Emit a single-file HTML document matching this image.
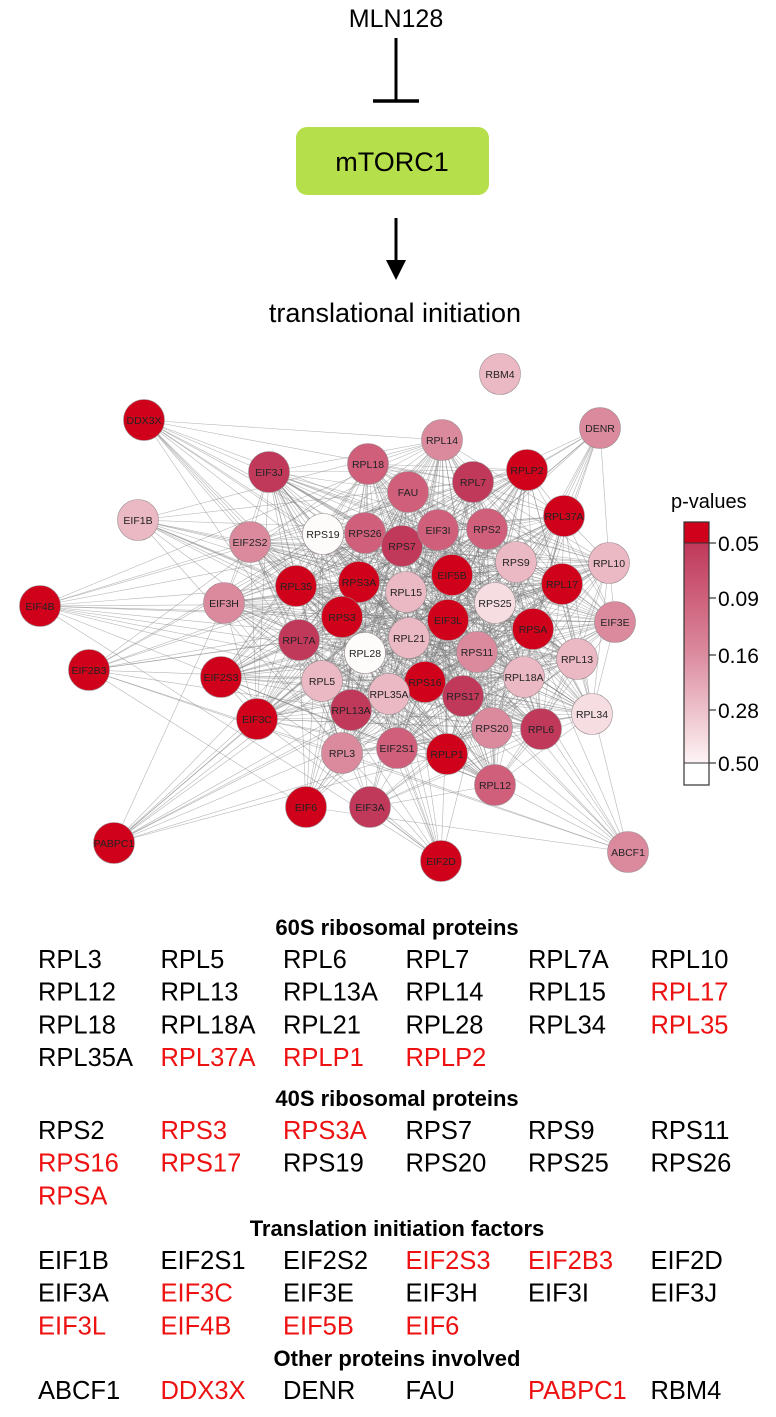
<!DOCTYPE html>
<html><head><meta charset="utf-8"><style>
body{margin:0;background:#fff;width:776px;height:1417px;overflow:hidden;font-family:"Liberation Sans",Arial,sans-serif;}
svg{display:block}
</style></head><body>
<svg width="776" height="1417" viewBox="0 0 776 1417">
<text x="396" y="27" font-size="25" text-anchor="middle">MLN128</text>
<line x1="396" y1="38" x2="396" y2="101" stroke="#000" stroke-width="3"/>
<line x1="373" y1="101" x2="419" y2="101" stroke="#000" stroke-width="3.5"/>
<rect x="296" y="127" width="193" height="68" rx="11" fill="#b5e04b"/>
<text x="392" y="171" font-size="27" text-anchor="middle">mTORC1</text>
<line x1="396" y1="218" x2="396" y2="265" stroke="#000" stroke-width="3"/>
<polygon points="386,260 406,260 396,280" fill="#000"/>
<text x="395" y="322" font-size="27" text-anchor="middle">translational initiation</text>
<g id="edges"></g>
<g id="nodes"></g>
<g>
<defs><linearGradient id="gr" x1="0" y1="0" x2="0" y2="1"><stop offset="0" stop-color="#c0385a"/><stop offset="0.5" stop-color="#db8a9e"/><stop offset="1" stop-color="#fdf4f5"/></linearGradient></defs>
<text x="671" y="508" font-size="20">p-values</text>
<rect x="684" y="522" width="25" height="21" fill="#d0021b"/>
<rect x="684" y="543" width="25" height="220" fill="url(#gr)"/>
<rect x="684" y="522" width="25" height="263" fill="none" stroke="#333" stroke-width="1.2"/>
<line x1="684" y1="763" x2="709" y2="763" stroke="#333"/>
<line x1="684" y1="543" x2="709" y2="543" stroke="#333"/>
<g id="ticks"></g>
</g>
<g id="lists"></g>
</svg>
<script>
const NS="http://www.w3.org/2000/svg";
function mk(t,a,p){const e=document.createElementNS(NS,t);for(const k in a)e.setAttribute(k,a[k]);p.appendChild(e);return e;}
const colors={R:"#d0021b",D:"#c0395a",M:"#cf5f7b",L:"#db8a9e",P:"#ebb9c4",V:"#f5dde2",W:"#fefbfb"};
const nodeNames=["RBM4","DDX3X","DENR","RPL14","RPL18","EIF3J","RPLP2","RPL7","FAU","EIF1B","RPL37A","EIF2S2","RPS19","RPS26","RPS7","EIF3I","RPS2","RPS9","RPL10","RPL35","RPS3A","EIF5B","RPL15","RPS25","RPL17","EIF4B","EIF3H","RPS3","EIF3L","RPL21","RPSA","EIF3E","RPL7A","RPL28","RPS11","RPL13","EIF2B3","EIF2S3","RPL5","RPL18A","RPS16","RPL35A","RPS17","RPL34","RPL13A","EIF3C","RPS20","RPL6","RPL3","EIF2S1","RPLP1","RPL12","EIF6","EIF3A","PABPC1","EIF2D","ABCF1"];
const nodeX=[500,144,600,442,368,269,527,473,408,138,564,250,323,365,402,438,487,516,609,296,359,452,406,495,562,40,224,342,448,409,533,615,299,365,477,577,89,221,322,524,425,389,463,592,351,257,492,541,342,397,447,495,306,370,114,441,628];
const nodeY=[374,420,428,440,464,472,470,482,492,520,516,542,534,533,546,530,529,562,563,586,582,575,592,603,584,606,603,617,620,638,629,622,640,653,652,659,670,677,681,677,682,694,696,714,710,719,728,729,753,748,754,785,807,807,843,861,852];
const nodeP=["P","R","L","L","M","D","R","D","M","P","R","L","W","M","D","M","M","P","P","R","R","R","P","V","R","R","L","R","R","P","R","L","D","W","L","P","R","R","P","P","R","P","D","V","D","R","L","D","L","M","R","M","R","D","R","R","L"];
const eg=document.getElementById('edges');
const peri=new Set(["RBM4","DDX3X","DENR","EIF1B","EIF4B","EIF2B3","PABPC1","ABCF1","EIF2D","EIF6","EIF3A"]);
for(let i=0;i<nodeNames.length;i++)for(let j=i+1;j<nodeNames.length;j++){
 if(nodeNames[i]==="RBM4"||nodeNames[j]==="RBM4")continue;
 const pi=peri.has(nodeNames[i]),pj=peri.has(nodeNames[j]);
 if((pi||pj)&&((i*7+j*3)%4!==0))continue;
 if(!pi&&!pj&&((i+j)%3===0))continue;
 const l=mk('line',{x1:nodeX[i],y1:nodeY[i],x2:nodeX[j],y2:nodeY[j],stroke:"#7a7a7a","stroke-width":0.6,"stroke-opacity":0.55},eg);
 
 
}
const ng=document.getElementById('nodes');
nodeNames.forEach((n,i)=>{
 const g=mk('g',{},ng);
 
 
 mk('circle',{cx:nodeX[i],cy:nodeY[i],r:20.5,fill:colors[nodeP[i]],stroke:"#9a8a8e","stroke-width":0.6},g);
 const t=mk('text',{x:nodeX[i],y:nodeY[i]+4,"font-size":10.5,"text-anchor":"middle",fill:"#222"},g);
 t.textContent=n;
});
const tickLabels=["0.05","0.09","0.16","0.28","0.50"];
const tickY=[543,598,655,710,763];
const tg=document.getElementById('ticks');
tickLabels.forEach((s,i)=>{
 const l=mk('line',{x1:709,y1:tickY[i],x2:716,y2:tickY[i],stroke:"#333","stroke-width":1.2},tg);
 
 
 const t=mk('text',{x:718,y:tickY[i]+8,"font-size":21},tg);
 
 
 t.textContent=s;
});
const sections=[
 ["60S ribosomal proteins",927,["RPL3","RPL5","RPL6","RPL7","RPL7A","RPL10","RPL12","RPL13","RPL13A","RPL14","RPL15","*RPL17","RPL18","RPL18A","RPL21","RPL28","RPL34","*RPL35","RPL35A","*RPL37A","*RPLP1","*RPLP2"]],
 ["40S ribosomal proteins",1098,["RPS2","*RPS3","*RPS3A","RPS7","RPS9","RPS11","*RPS16","*RPS17","RPS19","RPS20","RPS25","RPS26","*RPSA"]],
 ["Translation initiation factors",1228,["EIF1B","EIF2S1","EIF2S2","*EIF2S3","*EIF2B3","EIF2D","EIF3A","*EIF3C","EIF3E","EIF3H","EIF3I","EIF3J","*EIF3L","*EIF4B","*EIF5B","*EIF6"]],
 ["Other proteins involved",1358,["ABCF1","*DDX3X","DENR","FAU","*PABPC1","RBM4"]]
];
const lg=document.getElementById('lists');
sections.forEach(s=>{
 const h=mk('text',{x:397,y:s[1]+8,"font-size":22,"font-weight":"bold","text-anchor":"middle"},lg);
 
 
 h.textContent=s[0];
 s[2].forEach((n,k)=>{
  const red=n[0]==="*";
  const t=mk('text',{x:38+(k%6)*122.5,y:s[1]+41+Math.floor(k/6)*32.7,"font-size":25.5,fill:red?"#ee1111":"#000"},lg);
  
  
  t.textContent=red?n.slice(1):n;
 });
});
</script>
</body></html>
